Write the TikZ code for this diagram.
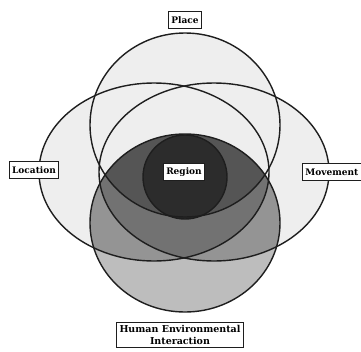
\documentclass[tikz,border=0pt]{standalone}
\usepackage{fontspec}
\setmainfont{DejaVu Serif}
\begin{document}
\begin{tikzpicture}[x=1pt,y=-1pt]
\definecolor{lite}{HTML}{EEEEEE}
\definecolor{hlow}{HTML}{BDBDBD}
\definecolor{hmid}{HTML}{949494}
\definecolor{hdark}{HTML}{727272}
\definecolor{lens}{HTML}{555555}
\definecolor{regc}{HTML}{2C2C2C}
\definecolor{ink}{HTML}{1E1E1E}
\tikzset{
  outline/.style={draw=ink, line width=1.4pt},
  lbl/.style={draw=ink, fill=white, line width=0.9pt, inner xsep=3pt, inner ysep=2pt,
    minimum height=17pt, font=\bfseries\fontsize{9}{11}\selectfont}
}
\def\PP{(185,125) ellipse [x radius=95pt, y radius=92pt]}
\def\HH{(185,223) ellipse [x radius=95pt, y radius=89pt]}
\def\LL{(154,172) ellipse [x radius=115pt, y radius=89pt]}
\def\MM{(214,172) ellipse [x radius=115pt, y radius=89pt]}
\def\RR{(185,177) circle [radius=42pt]}
\useasboundingbox (0,0) rectangle (361,351);
\fill[white] (0,0) rectangle (361,351);
% light fills
\fill[lite] \PP; \fill[lite] \LL; \fill[lite] \MM;
\fill[hlow] \HH;
\begin{scope}
  \clip \HH;
  \fill[hmid] \LL; \fill[hmid] \MM;
  \begin{scope}
    \clip \LL;
    \fill[hdark] \MM;
  \end{scope}
  \fill[lens] \PP;
\end{scope}
\fill[regc] \RR;
% outlines
\draw[outline] \PP;
\draw[outline] \HH;
\draw[outline] \LL;
\draw[outline] \MM;
\draw[outline] \RR;
% labels
\node[lbl] (place) at (185,20) {Place};
\node[lbl] (location) at (34,170) {Location};
\node[lbl, anchor=west, text width=58pt, align=left] (movement) at (302,172) {Movement};
\node[lbl] (region) at (184,172) {Region};
\node[lbl, anchor=north, align=center, font=\bfseries\fontsize{9.5}{12}\selectfont, inner ysep=3pt] (hei) at (180,322) {Human Environmental\\Interaction};
\end{tikzpicture}
\end{document}
